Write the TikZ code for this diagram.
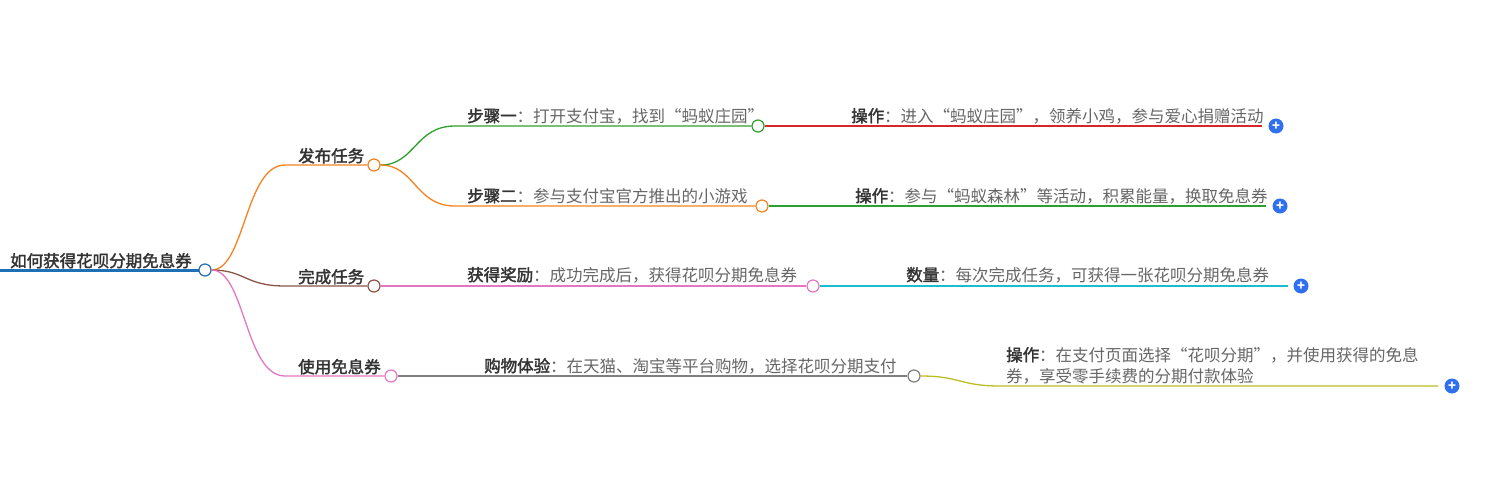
\documentclass[tikz,border=0pt]{standalone}
\usepackage{fontspec}
\setmainfont{Noto Sans CJK SC}
\newfontfamily\cjkb[FakeBold=2]{Noto Sans CJK SC}
\begin{document}
\begin{tikzpicture}[x=1pt,y=-1pt,
  lbl/.style={anchor=base west,inner sep=0pt,font=\fontsize{16.5}{21}\selectfont,text=black!60},
  dot/.style={circle,draw,fill=white,minimum size=12pt,inner sep=0pt,line width=1.2pt},
  plus/.style={circle,minimum size=15pt,inner sep=0pt,text=white,font=\bfseries\fontsize{13}{13}\selectfont},
  ln/.style={line width=1.3pt}]
\definecolor{cblue}{HTML}{1F6FB5}
\definecolor{corange}{HTML}{F5821F}
\definecolor{cbrown}{HTML}{8B5446}
\definecolor{cpink}{HTML}{E377C2}
\definecolor{cgreen}{HTML}{2CA02C}
\definecolor{cred}{HTML}{D62728}
\definecolor{ccyan}{HTML}{17BECF}
\definecolor{cgray}{HTML}{7F7F7F}
\definecolor{colive}{HTML}{BCBD22}
\definecolor{pblue}{HTML}{2F6FF0}
\tikzset{plus/.append style={fill=pblue}}
\newcommand{\bt}[1]{{\cjkb\color{black!80}#1}}
\useasboundingbox (0,0) rectangle (1493,487);
% root
\node[lbl,text=black!85] (root) at (10,267) {\bt{如何获得花呗分期免息券}};
\draw[cblue,line width=3pt] (0,270) -- (200,270);
\node[dot,draw=cblue] (r) at (205,270) {};
% level 1
\node[dot,draw=corange] (a) at (374,165) {};
\node[dot,draw=cbrown] (b) at (374,286) {};
\node[dot,draw=cpink] (c) at (391,376) {};
\draw[ln,corange] (r) .. controls (245,270) and (245,165) .. (285,165) -- (a);
\draw[ln,cbrown] (r) .. controls (245,270) and (245,286) .. (285,286) -- (b);
\draw[ln,cpink] (r) .. controls (245,270) and (245,376) .. (285,376) -- (c);
\node[lbl] at (298,162) {\bt{发布任务}};
\node[lbl] at (298,283) {\bt{完成任务}};
\node[lbl] at (298,373) {\bt{使用免息券}};
% level 2
\node[dot,draw=cgreen] (a1) at (758,126) {};
\node[dot,draw=corange] (a2) at (762,206) {};
\node[dot,draw=cpink] (b1) at (813,286) {};
\node[dot,draw=cgray] (c1) at (914,376) {};
\draw[ln,cgreen] (a) .. controls (415,165) and (415,126) .. (455,126) -- (a1);
\draw[ln,corange] (a) .. controls (415,165) and (415,206) .. (455,206) -- (a2);
\draw[ln,cpink] (b) -- (b1);
\draw[ln,cgray] (c) -- (c1);
\node[lbl] at (467,122) {\bt{步骤一}：打开支付宝，找到“蚂蚁庄园”};
\node[lbl] at (467,202) {\bt{步骤二}：参与支付宝官方推出的小游戏};
\node[lbl] at (467,281) {\bt{获得奖励}：成功完成后，获得花呗分期免息券};
\node[lbl] at (484,372) {\bt{购物体验}：在天猫、淘宝等平台购物，选择花呗分期支付};
% level 3
\node[plus] (p1) at (1276,126) {+};
\node[plus] (p2) at (1280,206) {+};
\node[plus] (p3) at (1301,286) {+};
\node[plus] (p4) at (1452,386) {+};
\draw[ln,cred] (a1) -- (1262,126);
\draw[ln,cgreen] (a2) -- (1266,206);
\draw[ln,ccyan] (b1) -- (1288,286);
\draw[ln,colive] (c1) .. controls (960,376) and (960,386) .. (1000,386) -- (1438,386);
\node[lbl] at (851,122) {\bt{操作}：进入“蚂蚁庄园”，领养小鸡，参与爱心捐赠活动};
\node[lbl] at (855,202) {\bt{操作}：参与“蚂蚁森林”等活动，积累能量，换取免息券};
\node[lbl] at (906,281) {\bt{数量}：每次完成任务，可获得一张花呗分期免息券};
\node[lbl] at (1006,361) {\bt{操作}：在支付页面选择“花呗分期”，并使用获得的免息};
\node[lbl] at (1006,382) {券，享受零手续费的分期付款体验};
\end{tikzpicture}
\end{document}
